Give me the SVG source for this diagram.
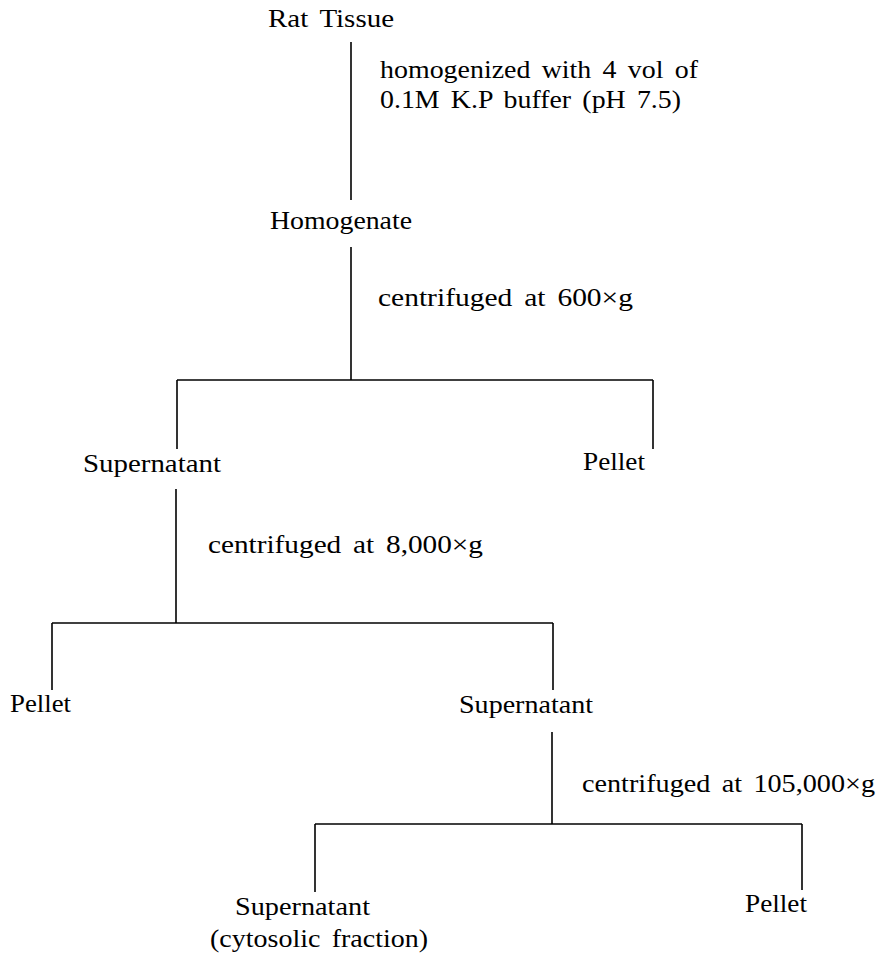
<svg xmlns="http://www.w3.org/2000/svg" width="880" height="958" viewBox="0 0 880 958">
<style>
text{font-family:"Liberation Serif","DejaVu Serif",serif;font-size:26px;fill:#000;word-spacing:4px}
.c line{stroke:#000;stroke-width:1.6;fill:none}
</style>
<rect width="880" height="958" fill="#fff"/>
<g class="c" id="connectors">
<line x1="351" y1="42" x2="351" y2="200"/>
<line x1="351" y1="247" x2="351" y2="380"/>
<line x1="177" y1="380" x2="653" y2="380"/>
<line x1="177" y1="380" x2="177" y2="449"/>
<line x1="653" y1="380" x2="653" y2="449"/>
<line x1="176" y1="489" x2="176" y2="623"/>
<line x1="52" y1="623" x2="553" y2="623"/>
<line x1="52" y1="623" x2="52" y2="690"/>
<line x1="553" y1="623" x2="553" y2="690"/>
<line x1="552" y1="732" x2="552" y2="824"/>
<line x1="315" y1="824" x2="802" y2="824"/>
<line x1="315" y1="824" x2="315" y2="892"/>
<line x1="802" y1="824" x2="802" y2="890"/>
</g>
<g id="n-rat"><text x="268" y="27" textLength="126" lengthAdjust="spacingAndGlyphs">Rat Tissue</text></g>
<g id="l-homog"><text x="380" y="78" textLength="318" lengthAdjust="spacingAndGlyphs">homogenized with 4 vol of</text><text x="380" y="108" textLength="301" lengthAdjust="spacingAndGlyphs">0.1M K.P buffer (pH 7.5)</text></g>
<g id="n-homogenate"><text x="270" y="229" textLength="142" lengthAdjust="spacingAndGlyphs">Homogenate</text></g>
<g id="l-600"><text x="378" y="306" textLength="255" lengthAdjust="spacingAndGlyphs">centrifuged at 600×g</text></g>
<g id="n-sup1"><text x="83" y="472" textLength="138" lengthAdjust="spacingAndGlyphs">Supernatant</text></g>
<g id="n-pel1"><text x="583" y="470" textLength="62" lengthAdjust="spacingAndGlyphs">Pellet</text></g>
<g id="l-8000"><text x="208" y="553" textLength="275" lengthAdjust="spacingAndGlyphs">centrifuged at 8,000×g</text></g>
<g id="n-pel2"><text x="10" y="712" textLength="61" lengthAdjust="spacingAndGlyphs">Pellet</text></g>
<g id="n-sup2"><text x="459" y="713" textLength="134" lengthAdjust="spacingAndGlyphs">Supernatant</text></g>
<g id="l-105000"><text x="582" y="792" textLength="293" lengthAdjust="spacingAndGlyphs">centrifuged at 105,000×g</text></g>
<g id="n-sup3"><text x="235" y="915" textLength="135" lengthAdjust="spacingAndGlyphs">Supernatant</text><text x="210" y="947" textLength="218" lengthAdjust="spacingAndGlyphs">(cytosolic fraction)</text></g>
<g id="n-pel3"><text x="745" y="912" textLength="62" lengthAdjust="spacingAndGlyphs">Pellet</text></g>
</svg>
